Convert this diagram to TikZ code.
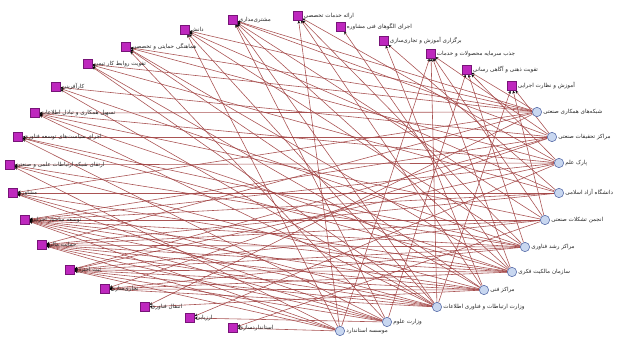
\documentclass[tikz,border=0pt]{standalone}
\usepackage{fontspec}
\usetikzlibrary{arrows.meta,backgrounds}
\TeXXeTstate=1
\newfontfamily\farsi[Script=Arabic]{DejaVu Sans}
\definecolor{sqfill}{RGB}{190,40,190}
\definecolor{sqdraw}{RGB}{120,20,120}
\definecolor{cifill}{RGB}{200,215,240}
\definecolor{cidraw}{RGB}{90,110,170}
\definecolor{edgecol}{RGB}{160,65,65}
\tikzset{
  sq/.style={rectangle, fill=sqfill, draw=sqdraw, line width=0.3pt,
    minimum size=2.6mm, inner sep=0pt},
  ci/.style={circle, fill=cifill, draw=cidraw, line width=0.5pt,
    minimum size=2.8mm, inner sep=0pt},
  lbl/.style={font=\farsi\fontsize{4.8}{5.5}\selectfont, inner sep=1pt, text=black!85},
  edge/.style={draw=edgecol, line width=0.5pt, opacity=0.9,
    -{Stealth[length=2.6pt,width=2.4pt,color=black]}}
}
\begin{document}
\begin{tikzpicture}[x=0.3mm,y=-0.3mm]
  \useasboundingbox (0,0) rectangle (619,338);
  % squares
  \node[sq, label={[lbl]right:\beginR دانش\endR}] (s1) at (185,30) {};
  \node[sq, label={[lbl]right:\beginR مشتری‌مداری\endR}] (s2) at (233,20) {};
  \node[sq, label={[lbl]right:\beginR ارائه خدمات تخصصی\endR}] (s3) at (298,16) {};
  \node[sq, label={[lbl]right:\beginR اجرای الگوهای فنی مشاوره\endR}] (s4) at (341,27) {};
  \node[sq, label={[lbl]right:\beginR برگزاری آموزش و تجاری‌سازی\endR}] (s5) at (384,41) {};
  \node[sq, label={[lbl]right:\beginR جذب سرمایه محصولات و خدمات\endR}] (s6) at (431,54) {};
  \node[sq, label={[lbl]right:\beginR تقویت ذهنی و آگاهی رسانی\endR}] (s7) at (467,70) {};
  \node[sq, label={[lbl]right:\beginR آموزش و نظارت اجرایی\endR}] (s8) at (512,86) {};
  \node[sq, label={[lbl]right:\beginR هماهنگی حمایتی و تخصصی\endR}] (s9) at (126,47) {};
  \node[sq, label={[lbl]right:\beginR تقویت روابط کار تیمی\endR}] (s10) at (88,64) {};
  \node[sq, label={[lbl]right:\beginR کارآفرینی\endR}] (s11) at (56,87) {};
  \node[sq, label={[lbl]right:\beginR تسهیل همکاری و تبادل اطلاعات\endR}] (s12) at (35,113) {};
  \node[sq, label={[lbl]right:\beginR اجرای سیاست‌های توسعه فناوری\endR}] (s13) at (18,137) {};
  \node[sq, label={[lbl]right:\beginR ارتقای شبکه ارتباطات علمی و صنعتی\endR}] (s14) at (10,165) {};
  \node[sq, label={[lbl]right:\beginR مشاوره\endR}] (s15) at (13,193) {};
  \node[sq, label={[lbl]right:\beginR توسعه ساختار اجرایی\endR}] (s16) at (25,220) {};
  \node[sq, label={[lbl]right:\beginR حمایت مالی\endR}] (s17) at (42,245) {};
  \node[sq, label={[lbl]right:\beginR ثبت اختراع\endR}] (s18) at (70,270) {};
  \node[sq, label={[lbl]right:\beginR تجاری‌سازی\endR}] (s19) at (105,289) {};
  \node[sq, label={[lbl]right:\beginR انتقال فناوری\endR}] (s20) at (145,307) {};
  \node[sq, label={[lbl]right:\beginR ارزیابی\endR}] (s21) at (190,318) {};
  \node[sq, label={[lbl]right:\beginR استانداردسازی\endR}] (s22) at (233,328) {};
  % circles
  \node[ci, label={[lbl]right:\beginR شبکه‌های همکاری صنعتی\endR}] (c1) at (537,112) {};
  \node[ci, label={[lbl]right:\beginR مراکز تحقیقات صنعتی\endR}] (c2) at (552,137) {};
  \node[ci, label={[lbl]right:\beginR پارک علم\endR}] (c3) at (559,163) {};
  \node[ci, label={[lbl]right:\beginR دانشگاه آزاد اسلامی\endR}] (c4) at (559,193) {};
  \node[ci, label={[lbl]right:\beginR انجمن تشکلات صنعتی\endR}] (c5) at (545,220) {};
  \node[ci, label={[lbl]right:\beginR مراکز رشد فناوری\endR}] (c6) at (525,247) {};
  \node[ci, label={[lbl]right:\beginR سازمان مالکیت فکری\endR}] (c7) at (512,272) {};
  \node[ci, label={[lbl]right:\beginR مراکز فنی\endR}] (c8) at (484,290) {};
  \node[ci, label={[lbl]right:\beginR وزارت ارتباطات و فناوری اطلاعات\endR}] (c9) at (437,307) {};
  \node[ci, label={[lbl]right:\beginR وزارت علوم\endR}] (c10) at (387,322) {};
  \node[ci, label={[lbl]right:\beginR موسسه استاندارد\endR}] (c11) at (340,331) {};
  % links
  \begin{pgfonlayer}{background}
    \foreach \a/\b in {c1/s1, c1/s2, c1/s9, c1/s12, c1/s10, c1/s7, c1/s20, c1/s17, c1/s15,
        c2/s2, c2/s13, c2/s6, c2/s11, c2/s16, c2/s19, c2/s8, c2/s18,
        c3/s14, c3/s3, c3/s7, c3/s9, c3/s18, c3/s21, c3/s16, c3/s12,
        c4/s15, c4/s1, c4/s5, c4/s10, c4/s17, c4/s16,
        c5/s2, c5/s16, c5/s8, c5/s12, c5/s17, c5/s22, c5/s6, c5/s18,
        c6/s1, c6/s3, c6/s11, c6/s17, c6/s14, c6/s18, c6/s7, c6/s16, c6/s19, c6/s13,
        c7/s2, c7/s13, c7/s15, c7/s16, c7/s17, c7/s18, c7/s19, c7/s4, c7/s9, c7/s6, c7/s12,
        c8/s3, c8/s5, c8/s14, c8/s16, c8/s18, c8/s20, c8/s10, c8/s17, c8/s19, c8/s9,
        c9/s1, c9/s2, c9/s6, c9/s12, c9/s15, c9/s17, c9/s18, c9/s19, c9/s11, c9/s8, c9/s16, c9/s10,
        c10/s2, c10/s7, c10/s9, c10/s15, c10/s16, c10/s21, c10/s13, c10/s18, c10/s17,
        c11/s1, c11/s3, c11/s14, c11/s17, c11/s22, c11/s6, c11/s16, c11/s18}
      \draw[edge] (\a) -- (\b);
  \end{pgfonlayer}
\end{tikzpicture}
\end{document}
